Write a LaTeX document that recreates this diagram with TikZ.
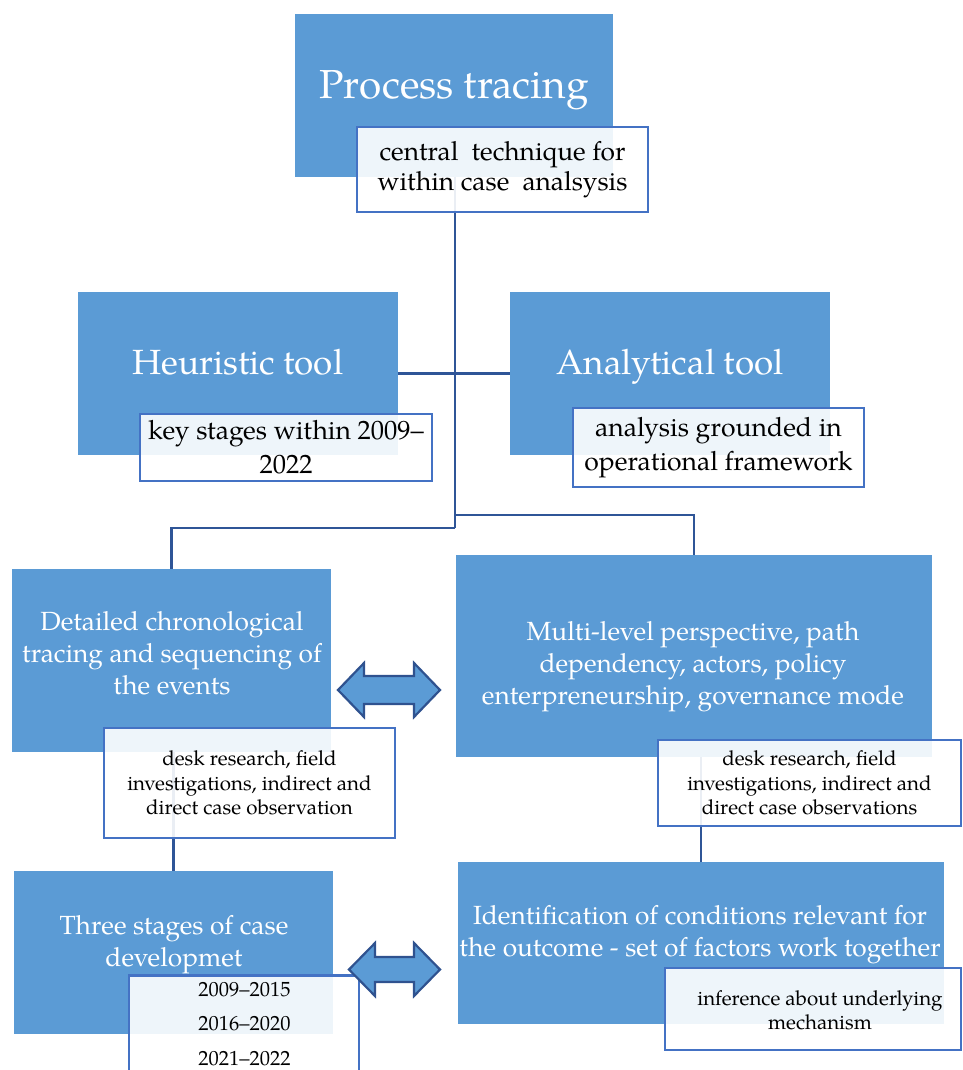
\documentclass[tikz,border=0pt]{standalone}
\usepackage{fontspec}
\setmainfont{TeX Gyre Pagella}
\definecolor{boxblue}{HTML}{5B9BD5}
\definecolor{connblue}{HTML}{2F5597}
\definecolor{tborder}{HTML}{4472C4}
\definecolor{arrowborder}{HTML}{2F528F}
\newcommand\fsA{\fontsize{40.5}{48}\selectfont}
\newcommand\fsB{\fontsize{35}{42}\selectfont}
\newcommand\fsC{\fontsize{26.3}{32}\selectfont}
\newcommand\fsD{\fontsize{26.3}{30}\selectfont}
\newcommand\fsE{\fontsize{26.5}{34}\selectfont}
\newcommand\fsF{\fontsize{20.5}{24.5}\selectfont}
\begin{document}
\begin{tikzpicture}[x=1pt,y=-1pt,
  bbox/.style={fill=boxblue, draw=none, inner sep=0pt},
  ttxt/.style={text=white, align=center, inner sep=0pt},
  tbox/.style={draw=tborder, line width=2.6pt, fill=white, fill opacity=0.9, text opacity=1, align=center, inner sep=0pt},
  plain/.style={align=center, inner sep=0pt},
  conn/.style={draw=connblue, line width=2.8pt},
  dbl/.style={fill=boxblue, draw=arrowborder, line width=2.2pt, line join=miter}]
\path[use as bounding box, clip] (0,0) rectangle (962,1070);
% blue boxes
\node[bbox, minimum width=318, minimum height=163] (pt) at (454,95.5) {};
\node[bbox, minimum width=320, minimum height=163] (heur) at (238,373.5) {};
\node[bbox, minimum width=320, minimum height=163] (analy) at (670,373.5) {};
\node[bbox, minimum width=319, minimum height=183] (det) at (171.5,660.5) {};
\node[bbox, minimum width=476, minimum height=202] (multi) at (694,656) {};
\node[bbox, minimum width=319, minimum height=163] (three) at (173.5,952.5) {};
\node[bbox, minimum width=486, minimum height=162] (ident) at (701,943) {};
% blue box texts
\node[ttxt, font=\fsA, anchor=base] (ptl) at (454,99) {Process tracing};
\node[ttxt, font=\fsB, anchor=base] (heurl) at (238,374) {Heuristic tool};
\node[ttxt, font=\fsB, anchor=base] (analyl) at (670,374) {Analytical tool};
\node[ttxt, font=\fsC] (detl) at (172,653) {Detailed chronological\\tracing and sequencing of\\the events};
\node[ttxt, font=\fsC] (multil) at (693,666.5) {Multi-level perspective, path\\dependency, actors, policy\\enterpreneurship, governance mode};
\node[ttxt, font=\fsC] (identl) at (700,934.5) {Identification of conditions relevant for\\the outcome - set of factors work together};
\node[ttxt, font=\fsC] (threel) at (174,945) {Three stages of case\\developmet};
% connectors
\coordinate (j1) at (455,528);
\coordinate (j2) at (455,515);
\draw[conn] (pt.south -| j1) -- (j1);
\draw[conn] (j2) -| (multi.north);
\draw[conn] (j1) -| (det.north);
\draw[conn] (heur.east) -- (analy.west);
\draw[conn] (three.north |- det.south) -- (three.north);
\draw[conn] (ident.north |- multi.south) -- (ident.north);
% text boxes
\node[tbox, font=\fsD, minimum width=291, minimum height=85] (ptt) at (502.5,169.5) {central\ \ technique for\\within case\ \ analsysis};
\node[tbox, font=\fsE, minimum width=292, minimum height=67] (heurt) at (286,447.5) {key stages within 2009–\\2022};
\node[tbox, font=\fsE, minimum width=291, minimum height=79] (analyt) at (718.5,447.5) {analysis grounded in\\operational framework};
\node[tbox, font=\fsF, minimum width=291, minimum height=110] (dett) at (249.5,783) {desk research, field\\investigations, indirect and\\direct case observation};
\node[tbox, font=\fsF, minimum width=303, minimum height=86] (multit) at (809.5,783) {desk research, field\\investigations, indirect and\\direct case observations};
\node[tbox, minimum width=296, minimum height=82] (identt) at (813,1009) {};
\node[plain, font=\fsF] (identtl) at (820,1010) {inference about underlying\\mechanism};
\node[tbox, minimum width=230, minimum height=120, anchor=north] (threet) at (244,974) {};
\node[plain, font=\fsF, anchor=base] (y1) at (244.5,996) {2009–2015};
\node[plain, font=\fsF, anchor=base] (y2) at (244.5,1030) {2016–2020};
\node[plain, font=\fsF, anchor=base] (y3) at (244.5,1065) {2021–2022};
% double arrows
\draw[dbl] (338,690) -- (364,663) -- (364,676) -- (414,676) -- (414,663) -- (440,690) -- (414,717) -- (414,704) -- (364,704) -- (364,717) -- cycle;
\draw[dbl] (349,969.5) -- (375,943) -- (375,957) -- (414,957) -- (414,943) -- (440,969.5) -- (414,996) -- (414,982) -- (375,982) -- (375,996) -- cycle;
\end{tikzpicture}
\end{document}
